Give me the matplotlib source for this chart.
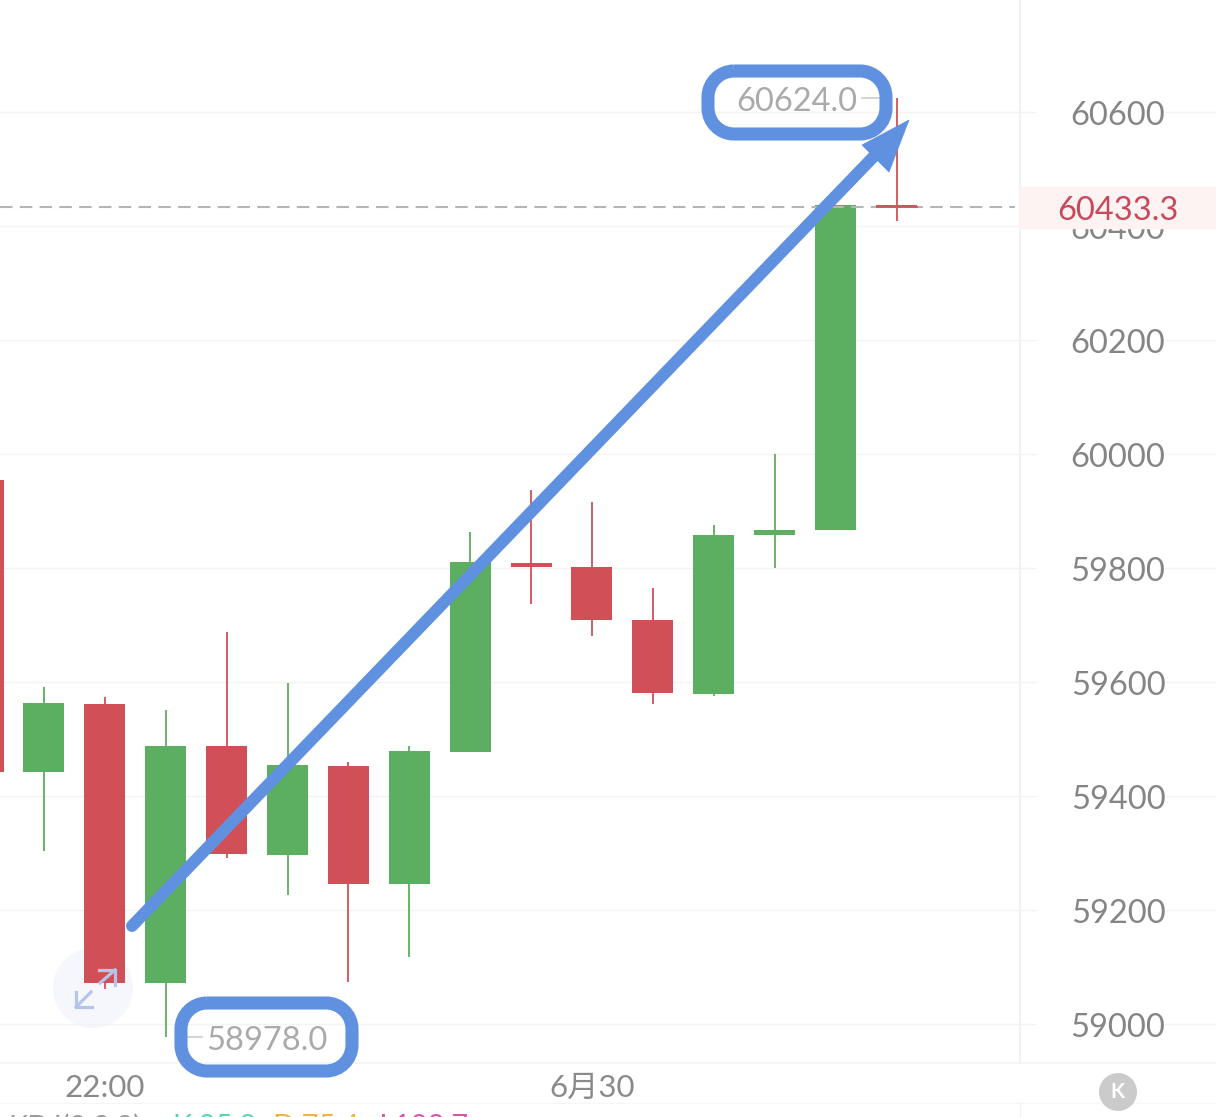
import matplotlib
matplotlib.use('Agg')
import matplotlib.pyplot as plt
from matplotlib.patches import PathPatch, Polygon, Circle, Rectangle
from matplotlib.path import Path

plt.rcParams['font.family'] = ['Lato', 'Noto Sans CJK SC', 'DejaVu Sans']

# candles, oldest first; the first one is cut off by the left edge
opens  = [59442, 59442, 59561, 59072, 59488, 59296, 59453, 59246, 59477, 59809, 59802, 59709, 59579, 59858, 59867, 60437]
closes = [59954, 59563, 59072, 59488, 59298, 59454, 59246, 59479, 59811, 59802, 59709, 59581, 59858, 59867, 60437, 60433.3]
highs  = [59954, 59591, 59574, 59551, 59688, 59598, 59460, 59488, 59863, 59937, 59916, 59765, 59875, 60000, 60437, 60624]
lows   = [59442, 59304, 59061, 58978, 59291, 59226, 59074, 59118, 59477, 59737, 59681, 59561, 59575, 59800, 59867, 60409]
colors = ['r', 'g', 'r', 'g', 'r', 'g', 'r', 'g', 'g', 'r', 'r', 'r', 'g', 'g', 'g', 'r']

price_ticks = [59000, 59200, 59400, 59600, 59800, 60000, 60200, 60400, 60600]
last_price = 60433.3
max_label = '60624.0'
min_label = '58978.0'
time_ticks = [2, 10]
time_labels = ['22:00', '6月30']
kdj_parts = ['KDJ(9,3,3)', 'K:85.8', 'D:75.4', 'J:103.7']
kdj_colors = ['#9a9a9a', '#5fd0b5', '#f2b04a', '#d455b0']

RED = '#d15057'
GREEN = '#5cae60'
BLUE = '#6090e0'
W, H = 1216, 1117

fig = plt.figure(figsize=(W / 100, H / 100), dpi=100, facecolor='white')

def pixel_axes():
    a = fig.add_axes([0, 0, 1, 1])
    a.set_xlim(0, W)
    a.set_ylim(H, 0)
    a.axis('off')
    return a

# pale disc of the expand button lies under the candles
back = pixel_axes()
back.add_patch(Circle((93, 988), 40, color='#f5f7fc', lw=0))

# price axes: index 0 sits just off the left edge, 60.9 px between candles
ax = fig.add_axes([0, 0, 1, 1])
x0 = -17
step = 60.9
ax.set_xlim((0 - x0) / step, (W - x0) / step)
ppx = 0.57
ax.set_ylim(59000 - (H - 1024) / ppx, 59000 + 1024 / ppx)
ax.axis('off')

# overlay in screen pixels for the drawn-on shapes and app chrome
ov = pixel_axes()

def px_x(i):
    return x0 + step * i

def px_y(v):
    return 1024 - (v - 59000) * ppx

def rounded_outline(x1, x2, y1, y2, r):
    k = 0.55 * r
    verts = [(x1 + r, y1), (x2 - r, y1),
             (x2 - r + k, y1), (x2, y1 + r - k), (x2, y1 + r),
             (x2, y2 - r),
             (x2, y2 - r + k), (x2 - r + k, y2), (x2 - r, y2),
             (x1 + r, y2),
             (x1 + r - k, y2), (x1, y2 - r + k), (x1, y2 - r),
             (x1, y1 + r),
             (x1, y1 + r - k), (x1 + r - k, y1), (x1 + r, y1)]
    codes = [Path.MOVETO, Path.LINETO,
             Path.CURVE4, Path.CURVE4, Path.CURVE4,
             Path.LINETO,
             Path.CURVE4, Path.CURVE4, Path.CURVE4,
             Path.LINETO,
             Path.CURVE4, Path.CURVE4, Path.CURVE4,
             Path.LINETO,
             Path.CURVE4, Path.CURVE4, Path.CURVE4]
    return Path(verts, codes)

# grid stays under the candles
for p in price_ticks:
    ax.plot([(0 - x0) / step, (1035 - x0) / step], [p, p], color='#f3f3f3', lw=1, zorder=1)
    ax.plot([(1165 - x0) / step, (W - x0) / step], [p, p], color='#f3f3f3', lw=1, zorder=1)
    ov.text(1118, px_y(p) + 4, str(p), color='#858585', fontsize=23.5, ha='center', va='center', zorder=2)

ov.plot([1020, 1020], [0, 1063], color='#f0f0f0', lw=1.2, zorder=1)
ov.plot([0, W], [1063, 1063], color='#f3f3f3', lw=1.2, zorder=1)
ov.plot([0, W], [1103, 1103], color='#f6f6f6', lw=1, zorder=1)
ov.plot([1020, 1020], [1103, H], color='#f3f3f3', lw=1, zorder=1)

for i, t in zip(time_ticks, time_labels):
    ov.text(px_x(i), 1088, t, color='#8a8a8a', fontsize=22.5, ha='center', va='center', zorder=2)

for i in range(len(opens)):
    c = RED if colors[i] == 'r' else GREEN
    ax.plot([i, i], [lows[i], highs[i]], color=c, lw=1.3, zorder=3, solid_capstyle='butt')
    bottom = min(opens[i], closes[i])
    height = abs(closes[i] - opens[i])
    ax.bar(i, height, bottom=bottom, width=41 / step, color=c, zorder=4)

# last price marker
ov.plot([0, 1015], [px_y(last_price)] * 2, color='#b5b5b5', lw=1.5, dashes=(6, 3.5), zorder=3)
ov.plot([px_x(15) - 20, px_x(15) + 20], [px_y(last_price)] * 2, color=RED, lw=1.3, zorder=4)
ov.add_patch(Rectangle((1020, 187), 196, 41, color='#fdf3f2', zorder=6))
ov.text(1118, 211, f'{last_price:.1f}', color='#c9485b', fontsize=23.5, ha='center', va='center', zorder=7)

# high and low labels
ov.plot([862, 880], [px_y(60624)] * 2, color='#cccccc', lw=1.2, zorder=5)
ov.text(797, 102, max_label, color='#aaaaaa', fontsize=23.5, ha='center', va='center', zorder=7)
ov.plot([187, 202], [px_y(58978)] * 2, color='#cccccc', lw=1.2, zorder=5)
ov.text(267, 1041, min_label, color='#aaaaaa', fontsize=23.5, ha='center', va='center', zorder=7)

# expand arrows
for xs, ys in [([99, 115, 115], [970, 970, 985]), ([100, 115], [983, 970]),
               ([76, 76, 92], [992, 1007, 1007]), ([91, 76], [992, 1007])]:
    ov.plot(xs, ys, color='#b4c4ea', lw=2.3, zorder=9, solid_joinstyle='miter')

# hand-drawn highlights
for x1, x2, y1, y2 in [(708, 886, 71, 134), (181, 352, 1003, 1071)]:
    ov.add_patch(PathPatch(rounded_outline(x1, x2, y1, y2, 26), fc='none', ec=BLUE, lw=9.4, zorder=10))
ov.plot([132, 880], [926, 150], color=BLUE, lw=8.6, solid_capstyle='round', zorder=10)
ov.add_patch(Polygon([(909, 120), (862, 145), (889, 172)], closed=True, fc=BLUE, ec=BLUE, lw=0.5, zorder=10))

# K button
ov.add_patch(Circle((1118, 1092), 19, color='#cbcbcb', lw=0, zorder=8))
ov.text(1118, 1092, 'K', color='white', fontsize=15, fontweight='bold', ha='center', va='center', zorder=9)

# indicator line, cut by the bottom edge
for t, c, x in zip(kdj_parts, kdj_colors, [8, 172, 272, 375]):
    ov.text(x, 1127, t, color=c, fontsize=21, ha='left', va='center', zorder=2)

fig.savefig('out.png', dpi=100)
